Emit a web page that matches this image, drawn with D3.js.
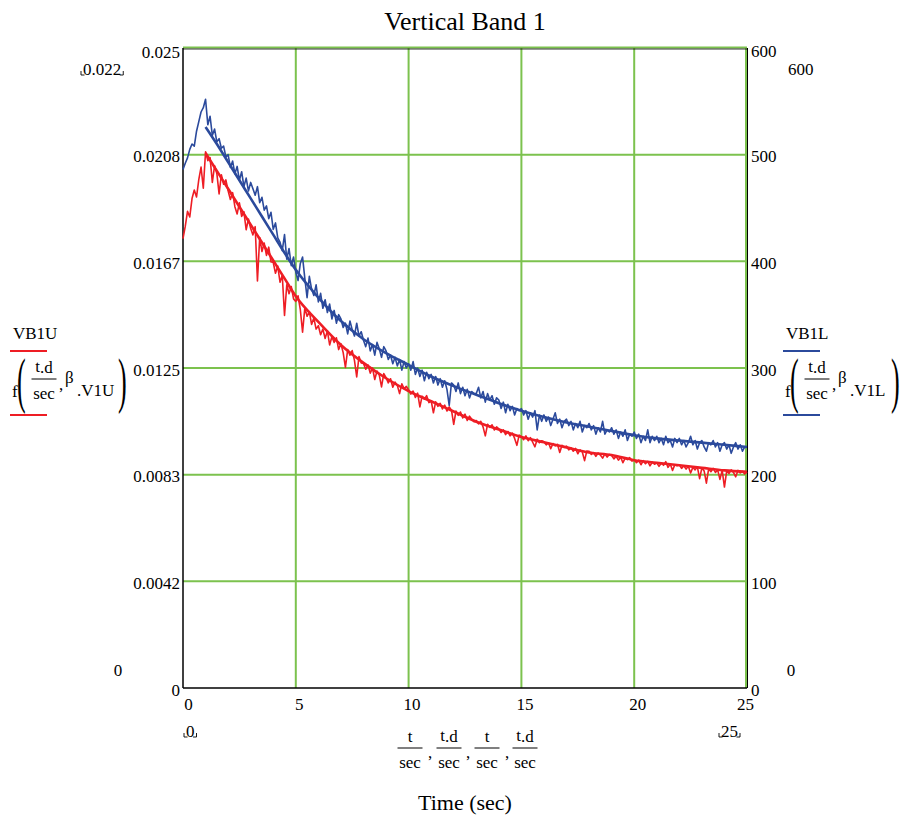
<!DOCTYPE html>
<html>
<head>
<meta charset="utf-8">
<script src="https://cdn.jsdelivr.net/npm/d3@7/dist/d3.min.js"></script>
<style>
  body { margin: 0; background: #fff; }
  svg { display: block; }
  text { font-family: "Liberation Serif", "Times New Roman", serif; fill: #000; }
</style>
</head>
<body>
<svg id="chart" width="904" height="822"></svg>
<script>
// Sample spacing of the recorded band traces (seconds)
const sampleStep = 0.1;

// Upper vertical band response VB1U, one value per sample (left axis units)
const upperBand = [
  0.01755, 0.01803, 0.01862, 0.01840, 0.01912, 0.01945, 0.01918, 0.01986, 0.02035, 0.01952,
  0.02095, 0.02060, 0.02072, 0.01975, 0.02040, 0.02010, 0.01930, 0.02005, 0.01968, 0.01985,
  0.01942, 0.01908, 0.01935, 0.01880, 0.01852, 0.01895, 0.01842, 0.01860, 0.01790, 0.01832,
  0.01795, 0.01770, 0.01802, 0.01590, 0.01760, 0.01705, 0.01738, 0.01690, 0.01722, 0.01665,
  0.01662, 0.01620, 0.01648, 0.01585, 0.01612, 0.01455, 0.01575, 0.01540, 0.01568, 0.01520,
  0.01510, 0.01532, 0.01478, 0.01390, 0.01485, 0.01452, 0.01470, 0.01420, 0.01445, 0.01402,
  0.01415, 0.01380, 0.01402, 0.01365, 0.01395, 0.01340, 0.01372, 0.01350, 0.01368, 0.01322,
  0.01345, 0.01310, 0.01252, 0.01322, 0.01300, 0.01318, 0.01280, 0.01215, 0.01295, 0.01270,
  0.01268, 0.01245, 0.01262, 0.01230, 0.01250, 0.01205, 0.01238, 0.01222, 0.01176, 0.01228,
  0.01212, 0.01192, 0.01208, 0.01175, 0.01195, 0.01182, 0.01150, 0.01188, 0.01170, 0.01178,
  0.01165, 0.01148, 0.01160, 0.01135, 0.01152, 0.01098, 0.01140, 0.01128, 0.01142, 0.01115,
  0.01122, 0.01075, 0.01118, 0.01100, 0.01112, 0.01090, 0.01105, 0.01082, 0.01098, 0.01085,
  0.01030, 0.01082, 0.01065, 0.01078, 0.01055, 0.01070, 0.01045, 0.01062, 0.01050, 0.01040,
  0.01045, 0.01032, 0.01042, 0.01020, 0.00985, 0.01030, 0.01018, 0.01028, 0.01008, 0.01020,
  0.01012, 0.00998, 0.01008, 0.00990, 0.01002, 0.00985, 0.00996, 0.00975, 0.00948, 0.00988,
  0.00982, 0.00970, 0.00985, 0.00966, 0.00978, 0.00960, 0.00942, 0.00972, 0.00958, 0.00966,
  0.00962, 0.00950, 0.00958, 0.00935, 0.00955, 0.00946, 0.00952, 0.00920, 0.00948, 0.00940,
  0.00945, 0.00930, 0.00938, 0.00925, 0.00936, 0.00915, 0.00930, 0.00922, 0.00888, 0.00926,
  0.00925, 0.00912, 0.00920, 0.00905, 0.00918, 0.00910, 0.00898, 0.00915, 0.00902, 0.00912,
  0.00908, 0.00895, 0.00905, 0.00890, 0.00902, 0.00880, 0.00898, 0.00892, 0.00900, 0.00886,
  0.00892, 0.00880, 0.00890, 0.00872, 0.00888, 0.00876, 0.00885, 0.00868, 0.00882, 0.00874,
  0.00880, 0.00866, 0.00878, 0.00870, 0.00884, 0.00862, 0.00875, 0.00850, 0.00872, 0.00868,
  0.00872, 0.00858, 0.00868, 0.00855, 0.00866, 0.00840, 0.00862, 0.00852, 0.00864, 0.00818,
  0.00860, 0.00848, 0.00800, 0.00856, 0.00845, 0.00858, 0.00842, 0.00852, 0.00815, 0.00850,
  0.00785, 0.00848, 0.00838, 0.00852, 0.00842, 0.00825, 0.00850, 0.00840, 0.00846, 0.00836,
  0.00844
];

// Lower vertical band response VB1L, one value per sample (right axis units)
const lowerBand = [
  486, 492, 497, 505, 510, 508, 522, 531, 540, 544,
  552, 528, 536, 518, 524, 512, 515, 506, 508, 498,
  500, 488, 494, 482, 489, 476, 484, 470, 478, 466,
  474, 468, 462, 470, 455, 460, 448, 452, 440, 446,
  430, 436, 422, 418, 410, 425, 402, 412, 396, 404,
  390, 382, 398, 404, 384, 366, 386, 374, 368, 378,
  362, 370, 356, 364, 352, 360, 346, 354, 342, 350,
  346, 338, 342, 332, 344, 336, 330, 342, 330, 334,
  326, 320, 328, 316, 322, 312, 324, 318, 310, 320,
  316, 308, 312, 304, 310, 302, 308, 298, 306, 300,
  304, 298, 306, 294, 300, 292, 298, 288, 296, 290,
  294, 286, 292, 284, 290, 282, 288, 280, 265, 286,
  284, 278, 286, 276, 282, 274, 280, 272, 278, 276,
  276, 282, 272, 278, 268, 276, 270, 274, 266, 272,
  270, 262, 268, 258, 266, 260, 264, 256, 262, 260,
  262, 256, 260, 252, 258, 254, 260, 242, 256, 250,
  256, 250, 254, 246, 252, 258, 248, 252, 244, 250,
  252, 246, 250, 242, 248, 244, 250, 240, 246, 244,
  248, 242, 246, 238, 244, 240, 250, 238, 242, 240,
  244, 238, 242, 234, 240, 236, 242, 232, 238, 236,
  240, 234, 238, 230, 236, 232, 242, 230, 236, 232,
  236, 230, 234, 228, 236, 230, 232, 226, 234, 230,
  234, 228, 232, 226, 230, 236, 228, 232, 224, 230,
  232, 226, 222, 230, 228, 232, 226, 230, 222, 228,
  230, 224, 228, 220, 226, 230, 224, 228, 222, 226,
  226
];

// Fitted model f(t.d/sec, β) evaluated at these times (seconds)
const fitTimes = [1, 1.5, 2, 2.5, 3, 3.5, 4, 4.5, 5, 6, 7, 8, 9, 10, 11, 12, 13, 14, 15,
                  16, 17, 18, 19, 20, 21, 22, 23, 24, 25];
const upperFit = [0.0209, 0.0202, 0.0195, 0.0188, 0.0181, 0.0174, 0.0167, 0.0160, 0.0153,
                  0.0143, 0.0134, 0.0127, 0.0121, 0.0116, 0.0112, 0.0108, 0.0104, 0.0101,
                  0.0098, 0.0096, 0.0094, 0.0092, 0.0091, 0.0089, 0.0088, 0.0087, 0.0086,
                  0.0085, 0.00845];
const lowerFit = [526, 510, 493, 476, 459, 442, 425, 408, 392, 366, 344, 327, 314, 303,
                  292, 283, 275, 267, 260, 254, 249, 245, 241, 237, 234, 232, 230, 228, 226];

// Axis ticks
const timeTicks = [0, 5, 10, 15, 20, 25];
const leftTickLabels = ["0", "0.0042", "0.0083", "0.0125", "0.0167", "0.0208", "0.025"];
const rightTicks = [0, 100, 200, 300, 400, 500, 600];

const plot = { left: 183, right: 747, top: 48, bottom: 688 };
const red = "#ee1d24", blue = "#2b4a9c", grid = "#7cc24e";

const svg = d3.select("#chart");

const x = d3.scaleLinear().domain([0, 25]).range([plot.left, plot.right]);
const yL = d3.scaleLinear().domain([0, 0.025]).range([plot.bottom, plot.top]);
const yR = d3.scaleLinear().domain([0, 600]).range([plot.bottom, plot.top]);

// Gridlines
const g = svg.append("g");
g.selectAll("line.h").data(rightTicks.slice(1)).join("line")
  .attr("x1", plot.left).attr("x2", plot.right)
  .attr("y1", d => yR(d) - (d === 600 ? 0.5 : 0)).attr("y2", d => yR(d) - (d === 600 ? 0.5 : 0))
  .attr("stroke", grid).attr("stroke-width", 2);
g.selectAll("line.v").data(timeTicks.slice(1)).join("line")
  .attr("x1", d => x(d) - (d === 25 ? 1 : 0)).attr("x2", d => x(d) - (d === 25 ? 1 : 0))
  .attr("y1", plot.top).attr("y2", plot.bottom)
  .attr("stroke", grid).attr("stroke-width", 2);

// Frame
svg.append("line").attr("x1", plot.left).attr("x2", plot.left).attr("y1", plot.top).attr("y2", plot.bottom)
  .attr("stroke", "#000").attr("stroke-width", 1.5);
svg.append("line").attr("x1", plot.left).attr("x2", plot.right).attr("y1", plot.bottom).attr("y2", plot.bottom)
  .attr("stroke", "#000").attr("stroke-width", 1.5);
svg.append("line").attr("x1", plot.right + 0.5).attr("x2", plot.right + 0.5).attr("y1", plot.top).attr("y2", plot.bottom)
  .attr("stroke", "#000").attr("stroke-width", 1);
svg.append("line").attr("x1", plot.left).attr("x2", plot.right).attr("y1", plot.top + 1).attr("y2", plot.top + 1)
  .attr("stroke", "#000").attr("stroke-width", 0.8);

// Traces
const bandLine = y => d3.line().x((d, i) => x(i * sampleStep)).y(d => y(d));
const fitLine = y => d3.line().x((d, i) => x(fitTimes[i])).y(d => y(d)).curve(d3.curveMonotoneX);

svg.append("path").datum(upperBand).attr("d", bandLine(yL))
  .attr("fill", "none").attr("stroke", red).attr("stroke-width", 1.6).attr("stroke-linejoin", "round");
svg.append("path").datum(upperFit).attr("d", fitLine(yL))
  .attr("fill", "none").attr("stroke", red).attr("stroke-width", 2.6);
svg.append("path").datum(lowerBand).attr("d", bandLine(yR))
  .attr("fill", "none").attr("stroke", blue).attr("stroke-width", 1.6).attr("stroke-linejoin", "round");
svg.append("path").datum(lowerFit).attr("d", fitLine(yR))
  .attr("fill", "none").attr("stroke", blue).attr("stroke-width", 2.6);

// Axes
const fs = 17;
const leftAxis = d3.axisLeft(yL).tickValues(d3.range(7).map(i => i * 0.025 / 6))
  .tickFormat((d, i) => leftTickLabels[i]).tickSize(0).tickPadding(3);
const la = svg.append("g").attr("transform", `translate(${plot.left},0)`).call(leftAxis);
la.select(".domain").remove();
la.selectAll("text").attr("font-size", fs).attr("font-family", "Liberation Serif")
  .attr("dy", (d, i) => i === 6 ? "0.55em" : "0.42em");

const rightAxis = d3.axisRight(yR).tickValues(rightTicks).tickSize(0).tickPadding(4);
const ra = svg.append("g").attr("transform", `translate(${plot.right},0)`).call(rightAxis);
ra.select(".domain").remove();
ra.selectAll("text").attr("font-size", fs).attr("font-family", "Liberation Serif")
  .attr("dy", (d, i) => i === 6 ? "0.5em" : "0.42em");

const bottomAxis = d3.axisBottom(x).tickValues(timeTicks).tickSize(0).tickPadding(10);
const ba = svg.append("g").attr("transform", `translate(0,${plot.bottom})`).call(bottomAxis);
ba.select(".domain").remove();
ba.selectAll("text").attr("font-size", fs).attr("font-family", "Liberation Serif")
  .attr("x", d => d === 0 ? 5 : d === 25 ? -2 : 3);

// Helper for plain text
function label(str, px, py, size, anchor) {
  return svg.append("text").attr("x", px).attr("y", py).attr("font-size", size)
    .attr("text-anchor", anchor || "start").text(str);
}
// Range-limit markers with corner brackets
function bracketed(str, px, py) {
  const t = label(str, px, py, fs, "start");
  const w = t.node().getComputedTextLength();
  svg.append("path").attr("d", `M${px - 2},${py - 4} V${py} H${px + 1.5}`)
    .attr("fill", "none").attr("stroke", "#000").attr("stroke-width", 0.9);
  svg.append("path").attr("d", `M${px + w + 2},${py - 4} V${py} H${px + w - 1.5}`)
    .attr("fill", "none").attr("stroke", "#000").attr("stroke-width", 0.9);
}

// Title
label("Vertical Band 1", 465, 30, 26, "middle");

// Axis range limits
bracketed("0.022", 83, 75);
label("600", 788, 75, fs);
label("0", 118, 676, fs, "middle");
label("0", 791, 676, fs, "middle");
bracketed("0", 186, 737);
bracketed("25", 721, 737);

// A stacked fraction: numerator over "sec"
function fraction(cx, barY, numParts) {
  const num = svg.append("text").attr("x", cx).attr("y", barY - 6)
    .attr("font-size", fs).attr("text-anchor", "middle");
  numParts.forEach(p => num.append("tspan").attr("dy", p.dy || 0).text(p.s));
  svg.append("line").attr("x1", cx - 12.5).attr("x2", cx + 12.5).attr("y1", barY).attr("y2", barY)
    .attr("stroke", "#000").attr("stroke-width", 1);
  label("sec", cx, barY + 20, fs, "middle");
}
const tOnly = [{ s: "t" }];
const tSubD = [{ s: "t", dy: -1.5 }, { s: ".d", dy: 1.5 }];

// X axis expression
fraction(410, 748, tOnly);
label(",", 428, 758, fs);
fraction(449, 748, tSubD);
label(",", 466, 758, fs);
fraction(487, 748, tOnly);
label(",", 505, 758, fs);
fraction(525, 748, tSubD);
label("Time (sec)", 465, 810, 22, "middle");

// Y axis expressions (left: VB1U in red, right: VB1L in blue)
function bigParen(ch, px) {
  svg.append("text").attr("transform", `translate(${px},401) scale(0.42,1)`)
    .attr("font-size", 62).text(ch);
}
function yExpr(x0, name, sub, color) {
  label(name, x0 + 3, 339, fs);
  svg.append("line").attr("x1", x0).attr("x2", x0 + 37).attr("y1", 351).attr("y2", 351)
    .attr("stroke", color).attr("stroke-width", 2);
  label("f", x0 + 2, 397, fs);
  bigParen("(", x0 + 7);
  fraction(x0 + 34, 379, tSubD);
  label(",", x0 + 49, 390, fs);
  label("β", x0 + 55, 383, fs);
  label(sub, x0 + 67, 396, fs);
  bigParen(")", x0 + 108);
  svg.append("line").attr("x1", x0).attr("x2", x0 + 37).attr("y1", 415).attr("y2", 415)
    .attr("stroke", color).attr("stroke-width", 2);
}
yExpr(10, "VB1U", ".V1U", red);
yExpr(783, "VB1L", ".V1L", blue);
</script>
</body>
</html>
